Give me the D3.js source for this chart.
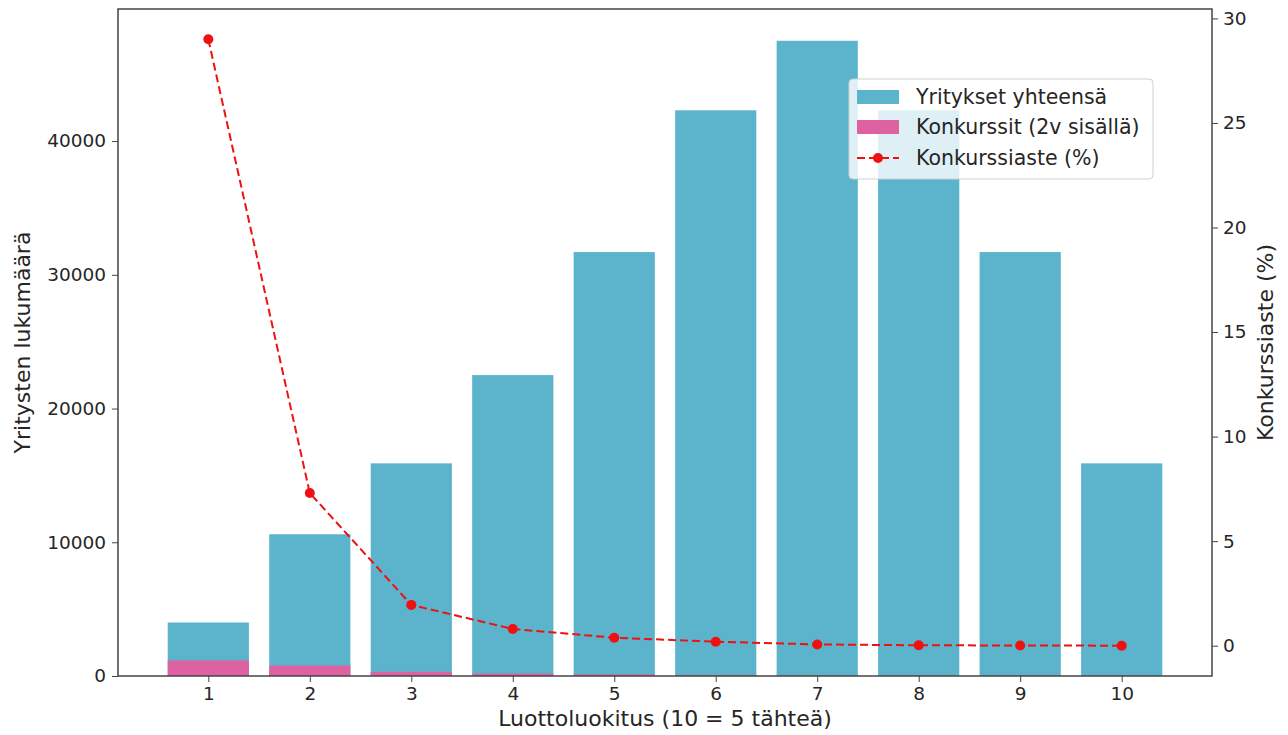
<!DOCTYPE html>
<html>
<head>
<meta charset="utf-8">
<script src="https://cdn.jsdelivr.net/npm/d3@7"></script>
<style>
  body { margin: 0; background: #fff; }
  text { font-family: "DejaVu Sans", sans-serif; fill: #262626; }
  .axis path, .axis line { stroke: #444; }
</style>
</head>
<body>
<svg id="svg" width="1288" height="735"></svg>
<script>
// Credit rating classes (10 = 5 stars)
let ratings = [1, 2, 3, 4, 5, 6, 7, 8, 9, 10];
// Total companies per class
let totalCompanies = [4000, 10600, 15900, 22500, 31700, 42300, 47500, 42300, 31700, 15900];
// Bankruptcies within 2 years
let bankruptcies = [1160, 780, 310, 180, 120, 80, 28, 8, 3, 0];
// Bankruptcy rate (%)
let bankruptcyRate = [29.0, 7.3, 1.95, 0.8, 0.38, 0.19, 0.06, 0.02, 0.01, 0.0];

let leftTicks = [0, 10000, 20000, 30000, 40000];
let rightTicks = [0, 5, 10, 15, 20, 25, 30];

let plotLeft = 118, plotRight = 1212, plotTop = 9, plotBottom = 676;
let blue = "#5cb3cc", pink = "#de62a2", red = "#f01010";

let svg = d3.select("#svg");

let x = d3.scaleLinear().domain([0.11, 10.89]).range([plotLeft, plotRight]);
let yLeft = d3.scaleLinear().domain([0, 49875]).range([plotBottom, plotTop]);
let yRight = d3.scaleLinear().domain([-1.45, 30.45]).range([plotBottom, plotTop]);
let barW = x(0.8) - x(0);

//Bars: totals, then bankruptcies on top of them
svg.append("g").selectAll("rect").data(ratings).join("rect")
    .attr("x", (d, i) => x(d) - barW / 2)
    .attr("y", (d, i) => yLeft(totalCompanies[i]))
    .attr("width", barW)
    .attr("height", (d, i) => plotBottom - yLeft(totalCompanies[i]))
    .attr("fill", blue);

svg.append("g").selectAll("rect").data(ratings).join("rect")
    .attr("x", (d, i) => x(d) - barW / 2)
    .attr("y", (d, i) => yLeft(bankruptcies[i]))
    .attr("width", barW)
    .attr("height", (d, i) => plotBottom - yLeft(bankruptcies[i]))
    .attr("fill", pink);

//Rate line on the right axis
let line = d3.line().x((d, i) => x(d)).y((d, i) => yRight(bankruptcyRate[i]));
svg.append("path")
    .datum(ratings)
    .attr("d", line)
    .attr("fill", "none")
    .attr("stroke", red)
    .attr("stroke-width", 2)
    .attr("stroke-dasharray", "8,4");

svg.append("g").selectAll("circle").data(ratings).join("circle")
    .attr("cx", d => x(d))
    .attr("cy", (d, i) => yRight(bankruptcyRate[i]))
    .attr("r", 5)
    .attr("fill", red);

//Axes
let xAxis = svg.append("g").attr("class", "axis")
    .attr("transform", "translate(0," + plotBottom + ")")
    .call(d3.axisBottom(x).tickValues(ratings).tickFormat(d3.format("d")).tickSize(6).tickPadding(5));
let lAxis = svg.append("g").attr("class", "axis")
    .attr("transform", "translate(" + plotLeft + ",0)")
    .call(d3.axisLeft(yLeft).tickValues(leftTicks).tickFormat(d3.format("d")).tickSize(6).tickPadding(6));
let rAxis = svg.append("g").attr("class", "axis")
    .attr("transform", "translate(" + plotRight + ",0)")
    .call(d3.axisRight(yRight).tickValues(rightTicks).tickFormat(d3.format("d")).tickSize(6).tickPadding(5));

[xAxis, lAxis, rAxis].forEach(a => {
    a.select(".domain").remove();
    a.selectAll("text").style("font-size", "18.5px").style("fill", "#262626").attr("font-family", "DejaVu Sans");
});

//Frame
svg.append("rect")
    .attr("x", plotLeft).attr("y", plotTop)
    .attr("width", plotRight - plotLeft).attr("height", plotBottom - plotTop)
    .attr("fill", "none").attr("stroke", "#444").attr("stroke-width", 1.5);

//Axis labels
svg.append("text")
    .attr("x", (plotLeft + plotRight) / 2).attr("y", 726)
    .attr("text-anchor", "middle").style("font-size", "22px")
    .text("Luottoluokitus (10 = 5 tähteä)");
svg.append("text")
    .attr("transform", "translate(30," + (plotTop + plotBottom) / 2 + ") rotate(-90)")
    .attr("text-anchor", "middle").style("font-size", "22px")
    .text("Yritysten lukumäärä");
svg.append("text")
    .attr("transform", "translate(1273," + (plotTop + plotBottom) / 2 + ") rotate(-90)")
    .attr("text-anchor", "middle").style("font-size", "22px")
    .text("Konkurssiaste (%)");

//Legend
let legend = svg.append("g");
legend.append("rect")
    .attr("x", 849).attr("y", 79).attr("width", 304).attr("height", 100)
    .attr("rx", 4)
    .attr("fill", "white").attr("fill-opacity", 0.8)
    .attr("stroke", "#d0d0d0");
let legendLabels = ["Yritykset yhteensä", "Konkurssit (2v sisällä)", "Konkurssiaste (%)"];
let legendRows = [97, 127, 158];
legendLabels.forEach(function (label, i) {
    let cy = legendRows[i];
    if (i < 2) {
        legend.append("rect")
            .attr("x", 857).attr("y", cy - 7).attr("width", 42).attr("height", 14)
            .attr("fill", i === 0 ? blue : pink);
    } else {
        legend.append("line")
            .attr("x1", 857).attr("x2", 899).attr("y1", cy).attr("y2", cy)
            .attr("stroke", red).attr("stroke-width", 2).attr("stroke-dasharray", "8,4");
        legend.append("circle").attr("cx", 878).attr("cy", cy).attr("r", 5).attr("fill", red);
    }
    legend.append("text")
        .attr("x", 916).attr("y", cy + 7)
        .style("font-size", "20.5px")
        .text(label);
});
</script>
</body>
</html>
